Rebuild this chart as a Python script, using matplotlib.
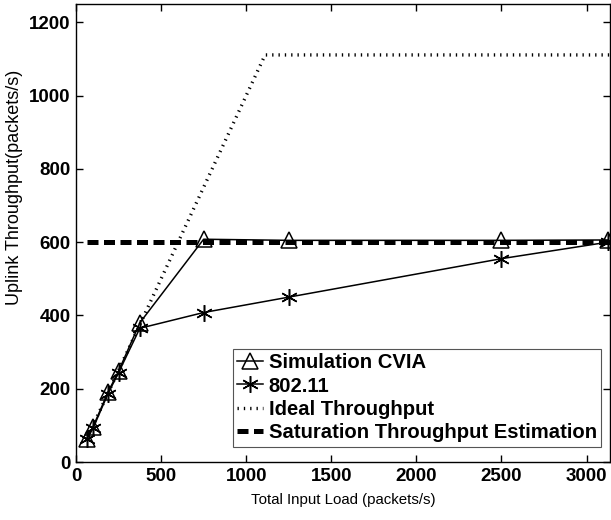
import matplotlib
matplotlib.use("Agg")

import matplotlib.pyplot as plt

# data
load = [62.5, 100, 187.5, 250, 375, 750, 1250, 2500, 3125]
sim_cvia = [62, 96, 190, 248, 380, 608, 605, 605, 606]
wifi = [62, 92, 186, 244, 365, 408, 450, 555, 600]

ideal_x = [62.5, 1111, 3140]
ideal_y = [62.5, 1111, 1111]

sat_x = [62.5, 3140]
sat_y = [601, 601]

plt.rcParams["font.family"] = ["Liberation Sans", "DejaVu Sans"]

fig = plt.figure(figsize=(6.11, 5.2), dpi=100)
ax = fig.add_axes([0.1244, 0.1115, 0.8746, 0.8808])

ax.plot(load, sim_cvia, color="black", lw=1.1, marker="^", ms=11,
        mfc="none", mec="black", mew=1.1, label="Simulation CVIA")
ax.plot(load, wifi, color="black", lw=1.1, marker=(6, 2, 0), ms=12,
        mew=1.1, label="802.11")
ax.plot(ideal_x, ideal_y, color="black", lw=2.4, dashes=(0.4, 1.5),
        label="Ideal Throughput")
ax.plot(sat_x, sat_y, color="black", lw=3.6, dashes=(2.2, 1.1),
        solid_capstyle="butt", dash_capstyle="butt",
        label="Saturation Throughput Estimation")

ax.set_xlim(0, 3140)
ax.set_ylim(0, 1250)
ax.set_xticks([0, 500, 1000, 1500, 2000, 2500, 3000])
ax.set_yticks([0, 200, 400, 600, 800, 1000, 1200])
ax.tick_params(direction="in", top=True, right=True, length=5, width=1,
               labelsize=13.5, pad=4)
for lab in ax.get_xticklabels() + ax.get_yticklabels():
    lab.set_fontweight("bold")
for sp in ax.spines.values():
    sp.set_linewidth(1.0)

ax.set_xlabel("Total Input Load (packets/s)", fontsize=10.8, labelpad=6)
ax.set_ylabel("Uplink Throughput(packets/s)", fontsize=13)
ax.yaxis.set_label_coords(-0.1, 0.6)

leg = ax.legend(loc="lower right", bbox_to_anchor=(0.983, 0.033),
                borderaxespad=0, fancybox=False, edgecolor="#555555",
                framealpha=1, handlelength=1.25, handletextpad=0.3,
                labelspacing=0.22, borderpad=0.22,
                prop={"weight": "bold", "size": 14.6})
leg.get_frame().set_linewidth(0.8)

fig.savefig("out.png", dpi=100)
